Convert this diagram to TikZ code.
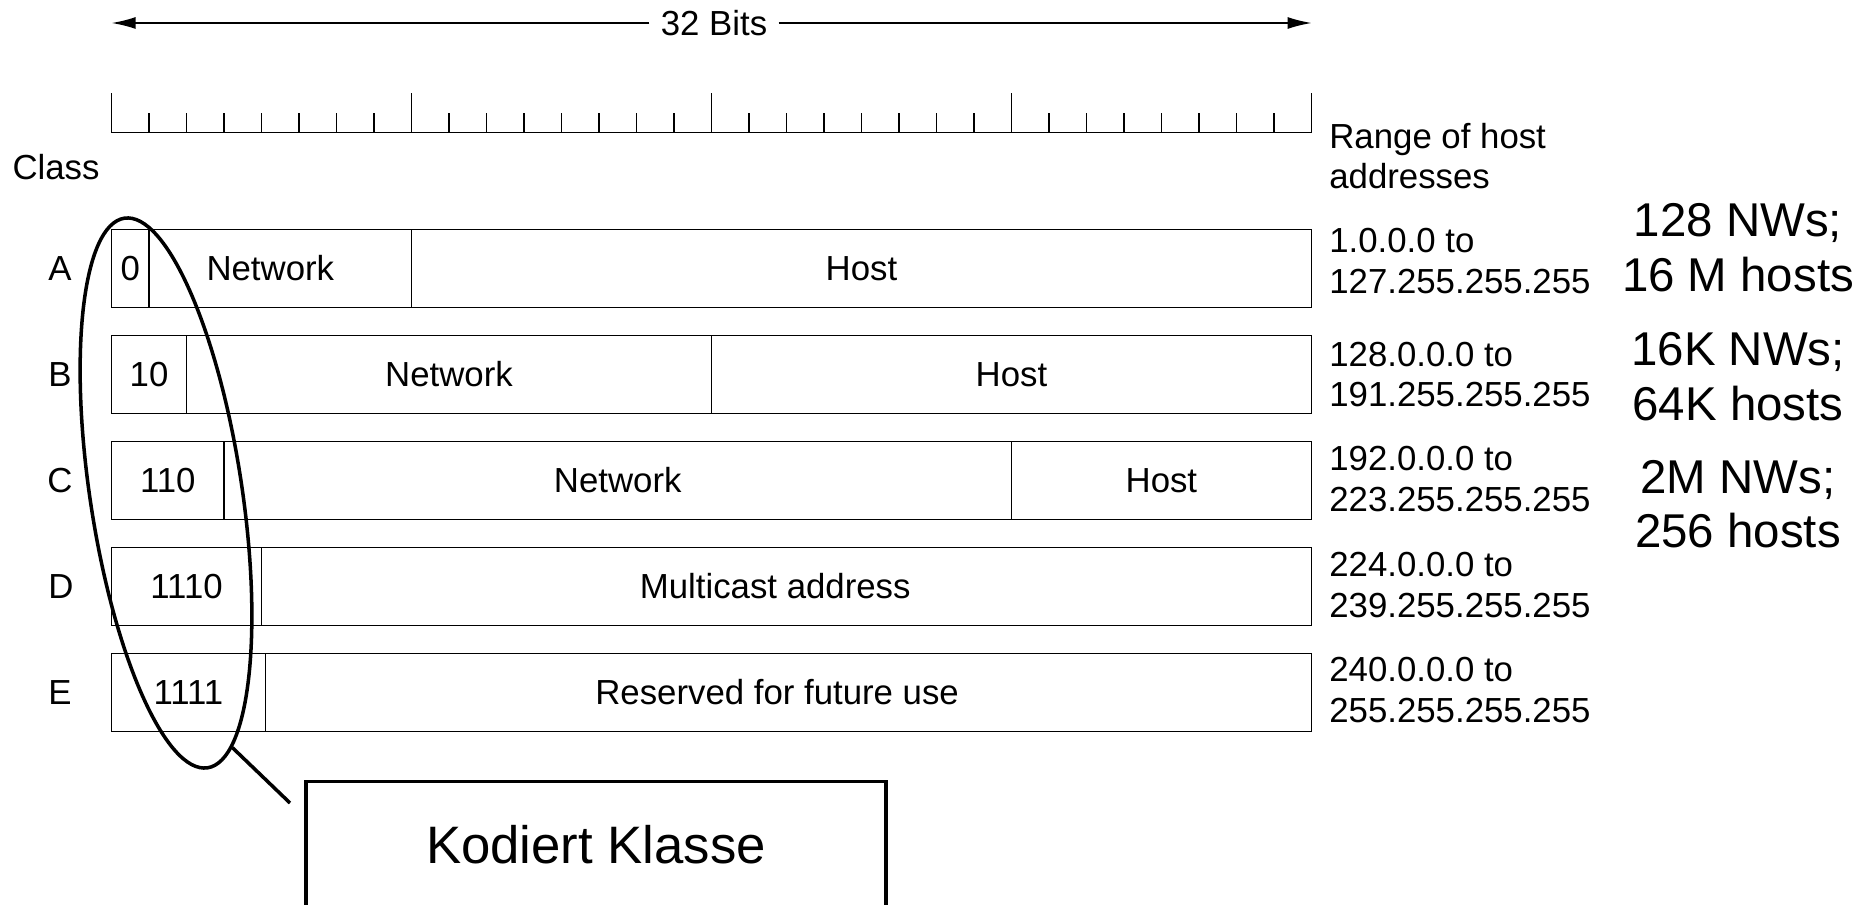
\documentclass[tikz,border=0pt]{standalone}
\usepackage{fontspec}
\setmainfont{Liberation Sans}
\usetikzlibrary{positioning,shapes.geometric,arrows.meta}

\begin{document}
\begin{tikzpicture}[x=0.02cm, y=-0.02cm,
txt/.style={font=\fontsize{19.8}{22.8}\selectfont, inner sep=0pt},
field/.style={draw, line width=0.9pt, minimum height=1.56cm, inner sep=0pt, outer sep=0pt, anchor=west, font=\fontsize{19.8}{22.8}\selectfont},
nbits/.style={minimum width=#1*0.75cm},
addr/.style={txt, align=left, anchor=west},
count/.style={font=\fontsize{27}{31}\selectfont, align=center, inner sep=0pt},
]
\useasboundingbox (0,0) rectangle (1876,905);
\clip (0,0) rectangle (1876,905);

% 32 bit arrow
\node[txt, inner xsep=0.22cm] (total) at (714,23) {32 Bits};
\coordinate (lend) at (111.6,23);
\coordinate (rend) at (1311.6,23);
\draw[line width=0.9pt, -{Latex[length=0.48cm,width=0.24cm]}] (total) -- (lend);
\draw[line width=0.9pt, -{Latex[length=0.48cm,width=0.24cm]}] (total) -- (rend);

% ruler
\draw[line width=0.9pt] (111.6,132.7) -- (1311.6,132.7);
\foreach \b in {0,...,32} {
  \pgfmathsetmacro\h{mod(\b,8)==0 ? 40 : 20}
  \draw[line width=0.9pt] (111.6+37.5*\b,132.7) -- ++(0,-\h);
}

\node[txt] (class) at (56,167) {Class};
\node[addr] (rhead) at (1329,156) {Range of host\\addresses};

% class A
\node[txt] (la) at (60,268.5) {A};
\node[field, nbits=1] (a0) at (111.6,268.5) {0};
\node[field, nbits=7, right=0pt of a0] (a1) {Network\rule{0.4cm}{0pt}};
\node[field, nbits=24, right=0pt of a1] (a2) {Host};
\node[addr] (ra) at (1329,261) {1.0.0.0 to\\127.255.255.255};

% class B
\node[txt] (lb) at (60,374.5) {B};
\node[field, nbits=2] (b0) at (111.6,374.5) {10};
\node[field, nbits=14, right=0pt of b0] (b1) {Network};
\node[field, nbits=16, right=0pt of b1] (b2) {Host};
\node[addr] (rb) at (1329,374.5) {128.0.0.0 to\\191.255.255.255};

% class C
\node[txt] (lc) at (60,480.5) {C};
\node[field, nbits=3] (c0) at (111.6,480.5) {110};
\node[field, nbits=21, right=0pt of c0] (c1) {Network};
\node[field, nbits=8, right=0pt of c1] (c2) {Host};
\node[addr] (rc) at (1329,479) {192.0.0.0 to\\223.255.255.255};

% class D
\node[txt] (ld) at (61,586.5) {D};
\node[field, nbits=4] (d0) at (111.6,586.5) {1110};
\node[field, nbits=28, right=0pt of d0] (d1) {Multicast address\rule{0.45cm}{0pt}};
\node[addr] (rd) at (1329,585) {224.0.0.0 to\\239.255.255.255};

% class E
\node[txt] (le) at (60,692.5) {E};
\node[field, nbits=4.1] (e0) at (111.6,692.5) {1111};
\node[field, nbits=27.9, right=0pt of e0] (e1) {Reserved for future use\rule{0.45cm}{0pt}};
\node[addr] (re) at (1329,690) {240.0.0.0 to\\255.255.255.255};

% sizes
\node[count] (na) at (1738,247.5) {128 NWs;\\16 M hosts};
\node[count] (nb) at (1738,376.5) {16K NWs;\\64K hosts};
\node[count] (nc) at (1738,504) {2M NWs;\\256 hosts};

% class bits
\node[draw, ellipse, line width=2pt, minimum width=3.04cm, minimum height=11.12cm, inner sep=0pt, rotate=8.6] (enc) at (166,493) {};
\node[draw, line width=2pt, minimum width=11.61cm, minimum height=2.54cm, font=\fontsize{30}{36}\selectfont] (note) at (596,845) {Kodiert Klasse};
\coordinate (lead) at (290,803);
\draw[line width=2pt] (enc.-84) -- (lead);
\end{tikzpicture}
\end{document}
